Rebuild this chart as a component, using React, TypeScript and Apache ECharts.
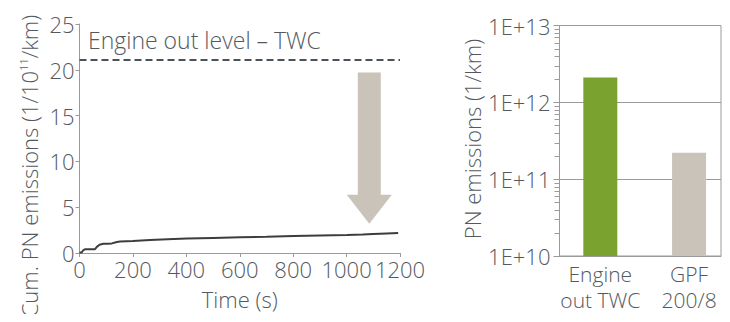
import React, { useEffect, useRef } from "react";
import * as echarts from "echarts";

// Cumulative PN emissions over the test cycle (1/10^11 per km)
const timeS = [0, 8, 14, 20, 40, 58, 66, 75, 89, 105, 121, 140, 152, 200, 264, 330, 402, 500, 602, 700, 802, 900, 1002, 1060, 1100, 1150, 1193];
const cumPN = [0.05, 0.05, 0.3, 0.4, 0.4, 0.42, 0.7, 0.9, 1.0, 1.0, 1.05, 1.2, 1.25, 1.3, 1.42, 1.5, 1.57, 1.64, 1.71, 1.78, 1.86, 1.92, 1.97, 2.02, 2.08, 2.14, 2.18];
const engineOutLevel = 21.1;
const engineOutLabel = "Engine out level – TWC";

// Totals per configuration (1/km), log scale
const configNames = ["Engine\nout TWC", "GPF\n200/8"];
const configPositions = [1, 2];
const configValues = [2.11e12, 2.2e11];
const configColors = ["#7aa22f", "#c9c3b9"];
const logTicks = [1e10, 1e11, 1e12, 1e13];

const FONT = "'Open Sans', 'Noto Sans', sans-serif";
const WEIGHT = 300;
const TXT = "#535960";
const AX = "#9a9a9a";

export default function App() {
  const ref = useRef<HTMLDivElement>(null);

  useEffect(() => {
    if (!ref.current) return;
    const chart = echarts.init(ref.current, null, { renderer: "svg" });

    const label = { color: TXT, fontSize: 22, fontFamily: FONT, fontWeight: WEIGHT };

    const option: any = {
      animation: false,
      textStyle: { fontFamily: FONT },
      grid: [
        { left: 79.5, right: 330, top: 24, bottom: 69 },
        { left: 559.5, right: 9, top: 25.5, bottom: 66, show: true, borderColor: AX, borderWidth: 1 },
      ],
      xAxis: [
        {
          gridIndex: 0,
          type: "value",
          min: 0,
          max: 1200,
          interval: 200,
          axisLine: { show: true, lineStyle: { color: AX, width: 1 } },
          axisTick: { show: true, length: 4, lineStyle: { color: AX } },
          axisLabel: {
            ...label,
            margin: 5,
            showMaxLabel: true,
            hideOverlap: false,
            formatter: (v: number) => String(v),
          },
          splitLine: { show: false },
          name: "Time (s)",
          nameLocation: "middle",
          nameGap: 35,
          nameTextStyle: label,
        },
        {
          gridIndex: 1,
          type: "value",
          min: 0.54,
          max: 2.36,
          axisLine: { show: true, lineStyle: { color: AX, width: 1 } },
          axisTick: { show: false },
          axisLabel: {
            customValues: configPositions,
            ...label,
            fontSize: 21,
            lineHeight: 26,
            margin: 5,
            formatter: (v: number) => configNames[configPositions.indexOf(v)] ?? "",
          },
          splitLine: { show: false },
        },
      ],
      yAxis: [
        {
          gridIndex: 0,
          type: "value",
          min: 0,
          max: 25,
          interval: 5,
          axisLine: { show: true, lineStyle: { color: AX, width: 1 } },
          axisTick: { show: true, length: 4, lineStyle: { color: AX } },
          axisLabel: { ...label, margin: 5 },
          splitLine: { show: false },
        },
        {
          gridIndex: 1,
          type: "log",
          logBase: 10,
          min: 1e10,
          max: 1e13,
          axisLine: { show: true, lineStyle: { color: AX, width: 1 } },
          axisTick: { show: true, length: 6, lineStyle: { color: AX } },
          axisLabel: {
            ...label,
            margin: 9,
            formatter: (v: number) => "1E+" + Math.round(Math.log10(v)),
          },
          splitLine: { show: true, lineStyle: { color: AX, width: 1 } },
        },
      ],
      series: [
        {
          type: "line",
          xAxisIndex: 0,
          yAxisIndex: 0,
          data: timeS.map((t, i) => [t, cumPN[i]]),
          showSymbol: false,
          lineStyle: { color: "#3d3d3d", width: 2 },
          markLine: {
            silent: true,
            symbol: "none",
            label: { show: false },
            lineStyle: { color: "#4b525a", width: 2, type: [7, 4] },
            data: [{ yAxis: engineOutLevel }],
          },
        },
        {
          type: "bar",
          xAxisIndex: 1,
          yAxisIndex: 1,
          barWidth: 34,
          data: configPositions.map((p, i) => ({
            value: [p, configValues[i]],
            itemStyle: { color: configColors[i] },
          })),
        },
      ],
    };
    chart.setOption(option);

    // Log-scale minor ticks at 2..9 × each decade, placed through the axis scale
    const minor: any[] = [];
    for (let d = 0; d < logTicks.length - 1; d++) {
      for (let k = 2; k <= 9; k++) {
        const v = logTicks[d] * k;
        const p = chart.convertToPixel({ xAxisIndex: 1, yAxisIndex: 1 } as any, [0.54, v]) as number[];
        const y = Math.round(p[1]) + 0.5;
        minor.push({
          type: "line",
          shape: { x1: p[0] - 5, y1: y, x2: p[0], y2: y },
          style: { stroke: AX, lineWidth: 1 },
          silent: true,
        });
      }
    }

    // Down arrow from the engine-out level toward the end of the cumulative curve
    const top = chart.convertToPixel({ xAxisIndex: 0, yAxisIndex: 0 } as any, [1085, 19.7]) as number[];
    const tip = chart.convertToPixel({ xAxisIndex: 0, yAxisIndex: 0 } as any, [1085, 3.2]) as number[];
    const headTop = tip[1] - 29;
    const cx = tip[0];

    chart.setOption({
      graphic: [
        ...minor,
        {
          type: "polygon",
          shape: {
            points: [
              [cx - 11.5, top[1]],
              [cx + 11.5, top[1]],
              [cx + 11.5, headTop],
              [cx + 22.5, headTop],
              [cx, tip[1]],
              [cx - 22.5, headTop],
              [cx - 11.5, headTop],
            ],
          },
          style: { fill: "#c9c3b9" },
          silent: true,
        },
        {
          type: "text",
          x: 88,
          y: 40,
          style: {
            text: engineOutLabel,
            fill: TXT,
            font: `${WEIGHT} 23px ${FONT}`,
            verticalAlign: "middle",
          },
        },
        {
          type: "text",
          x: 29,
          y: 166,
          rotation: Math.PI / 2,
          style: {
            text: "{n|Cum. PN emissions (1/10}{s|11}{n|/km)}",
            align: "center",
            verticalAlign: "middle",
            rich: {
              n: { fill: TXT, fontSize: 22, fontFamily: FONT, fontWeight: WEIGHT },
              s: { fill: TXT, fontSize: 11, fontFamily: FONT, fontWeight: WEIGHT, verticalAlign: "top", padding: [0, 0, 10, 0] },
            },
          },
        },
        {
          type: "text",
          x: 472,
          y: 139,
          rotation: Math.PI / 2,
          style: {
            text: "PN emissions (1/km)",
            fill: TXT,
            font: `${WEIGHT} 22px ${FONT}`,
            align: "center",
            verticalAlign: "middle",
          },
        },
      ],
    });

    return () => chart.dispose();
  }, []);

  return <div ref={ref} style={{ width: 730, height: 322, margin: -8 }} />;
}
